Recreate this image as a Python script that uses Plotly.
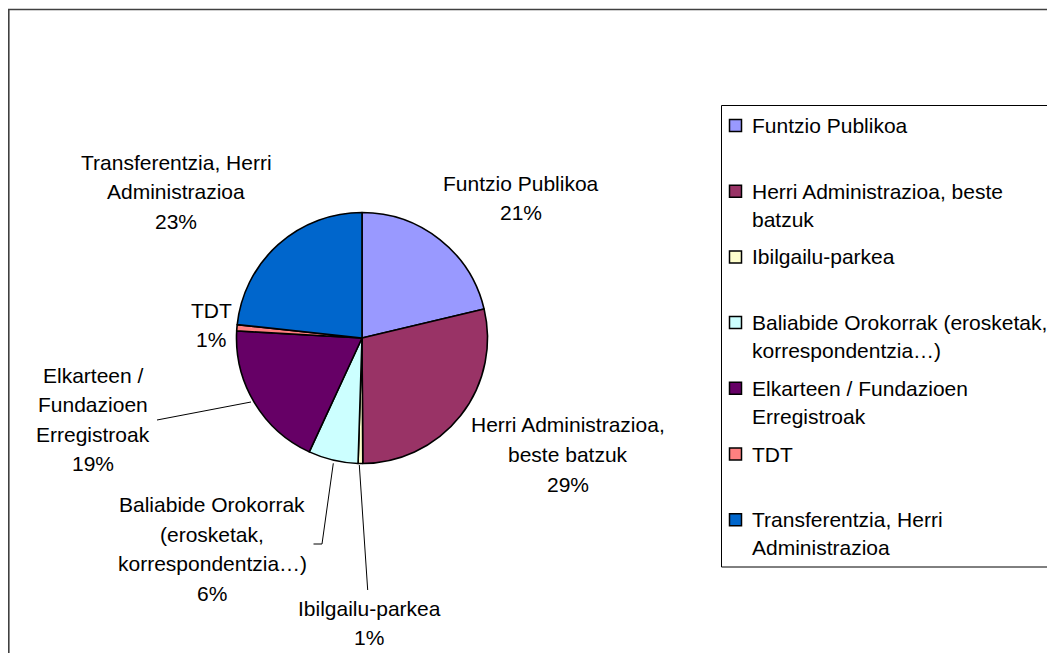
"""
Pie chart: cost distribution by area (Basque labels), Excel-style layout.
"""

import plotly.graph_objects as go


# ─── Data ─────────────────────────────────────────────────────

categories = [
    "Funtzio Publikoa",
    "Herri Administrazioa, beste batzuk",
    "Ibilgailu-parkea",
    "Baliabide Orokorrak (erosketak, korrespondentzia…)",
    "Elkarteen / Fundazioen Erregistroak",
    "TDT",
    "Transferentzia, Herri Administrazioa",
]
shares = [21.3, 28.6, 0.6, 6.4, 19.0, 0.8, 23.3]
colors = ["#9999FF", "#993366", "#FFFFCC", "#CCFFFF", "#660066", "#FF8080", "#0066CC"]

# line breaks as they appear next to the slices and in the legend
slice_text = [
    "Funtzio Publikoa",
    "Herri Administrazioa,<br>beste batzuk",
    "Ibilgailu-parkea",
    "Baliabide Orokorrak<br>(erosketak,<br>korrespondentzia…)",
    "Elkarteen /<br>Fundazioen<br>Erregistroak",
    "TDT",
    "Transferentzia, Herri<br>Administrazioa",
]
legend_text = [
    "Funtzio Publikoa",
    "Herri Administrazioa, beste<br>batzuk",
    "Ibilgailu-parkea",
    "Baliabide Orokorrak (erosketak,<br>korrespondentzia…)",
    "Elkarteen / Fundazioen<br>Erregistroak",
    "TDT",
    "Transferentzia, Herri<br>Administrazioa",
]


# ─── Layout (page pixels) ─────────────────────────────────────

W, H = 1055, 661
OFF = 8                      # default <body> margin of the html page
FW, FH = W - 2 * OFF, H - 2 * OFF

FONT = dict(family="Liberation Sans, Arial, sans-serif", size=21, color="#000000")
LINE_H = 29.5

PIE_CX, PIE_CY, PIE_R = 362, 338, 125.5

# centre x / first line y of each slice label
LABEL_POS = [(521, 183), (568, 425), (369, 608), (212, 504.5), (93, 375), (211, 310), (176, 162)]

# leader lines for the labels pushed away from their slice
LEADERS = {
    2: [(359.3, 465), (367.7, 590)],
    3: [(333.3, 463.3), (322, 544), (313.5, 544)],
    4: [(251, 402), (157, 420)],
}

LEG_BOX = (721.5, 105.5, 1070, 567)
LEG_Y0, LEG_STEP = 125.5, 65.7
LEG_MARK_X, LEG_TEXT_X = 729.5, 750


def px(x):
    return (x - OFF) / FW


def py(y):
    return 1 - (y - OFF) / FH


# ─── Figure ───────────────────────────────────────────────────

fig = go.Figure(go.Pie(
    labels=categories,
    values=shares,
    sort=False,
    direction="clockwise",
    rotation=0,
    marker=dict(colors=colors, line=dict(color="#000000", width=1.6)),
    textinfo="none",
    showlegend=False,
    domain=dict(
        x=[px(PIE_CX - PIE_R), px(PIE_CX + PIE_R)],
        y=[py(PIE_CY + PIE_R), py(PIE_CY - PIE_R)],
    ),
))

total = sum(shares)
annotations = []
shapes = []

# slice labels, one annotation per line to keep Excel's line spacing
for i, (name, v) in enumerate(zip(slice_text, shares)):
    lines = name.split("<br>") + [f"{round(v / total * 100)}%"]
    cx, y0 = LABEL_POS[i]
    for k, line in enumerate(lines):
        annotations.append(dict(
            x=px(cx), y=py(y0 + k * LINE_H), xref="paper", yref="paper",
            text=line, showarrow=False, xanchor="center", yanchor="middle",
            font=FONT,
        ))

for pts in LEADERS.values():
    path = "M " + " L ".join(f"{px(x)},{py(y)}" for x, y in pts)
    shapes.append(dict(type="path", path=path, xref="paper", yref="paper",
                       line=dict(color="#000000", width=1)))

# legend box
x0, y0, x1, y1 = LEG_BOX
shapes.append(dict(type="rect", xref="paper", yref="paper",
                   x0=px(x0), x1=px(x1), y0=py(y1), y1=py(y0),
                   line=dict(color="#000000", width=1)))

for i, (name, c) in enumerate(zip(legend_text, colors)):
    yc = LEG_Y0 + i * LEG_STEP
    shapes.append(dict(type="rect", xref="paper", yref="paper",
                       x0=px(LEG_MARK_X), x1=px(LEG_MARK_X + 12),
                       y0=py(yc + 6), y1=py(yc - 6),
                       fillcolor=c, line=dict(color="#000000", width=1.5)))
    for k, line in enumerate(name.split("<br>")):
        annotations.append(dict(
            x=px(LEG_TEXT_X), y=py(yc + k * 28), xref="paper", yref="paper",
            text=line, showarrow=False, xanchor="left", yanchor="middle",
            font=FONT,
        ))

# outer chart frame (right and bottom edges fall outside the page;
# the left edge sits on the first pixel the figure can draw on)
shapes.append(dict(type="rect", xref="paper", yref="paper",
                   x0=px(8.8), x1=px(1100), y0=py(700), y1=py(9.5),
                   line=dict(color="#404040", width=1.6)))

fig.update_layout(
    width=FW,
    height=FH,
    margin=dict(l=0, r=0, t=0, b=0),
    paper_bgcolor="#ffffff",
    plot_bgcolor="#ffffff",
    font=FONT,
    annotations=annotations,
    shapes=shapes,
)

fig.write_html("out.html")
